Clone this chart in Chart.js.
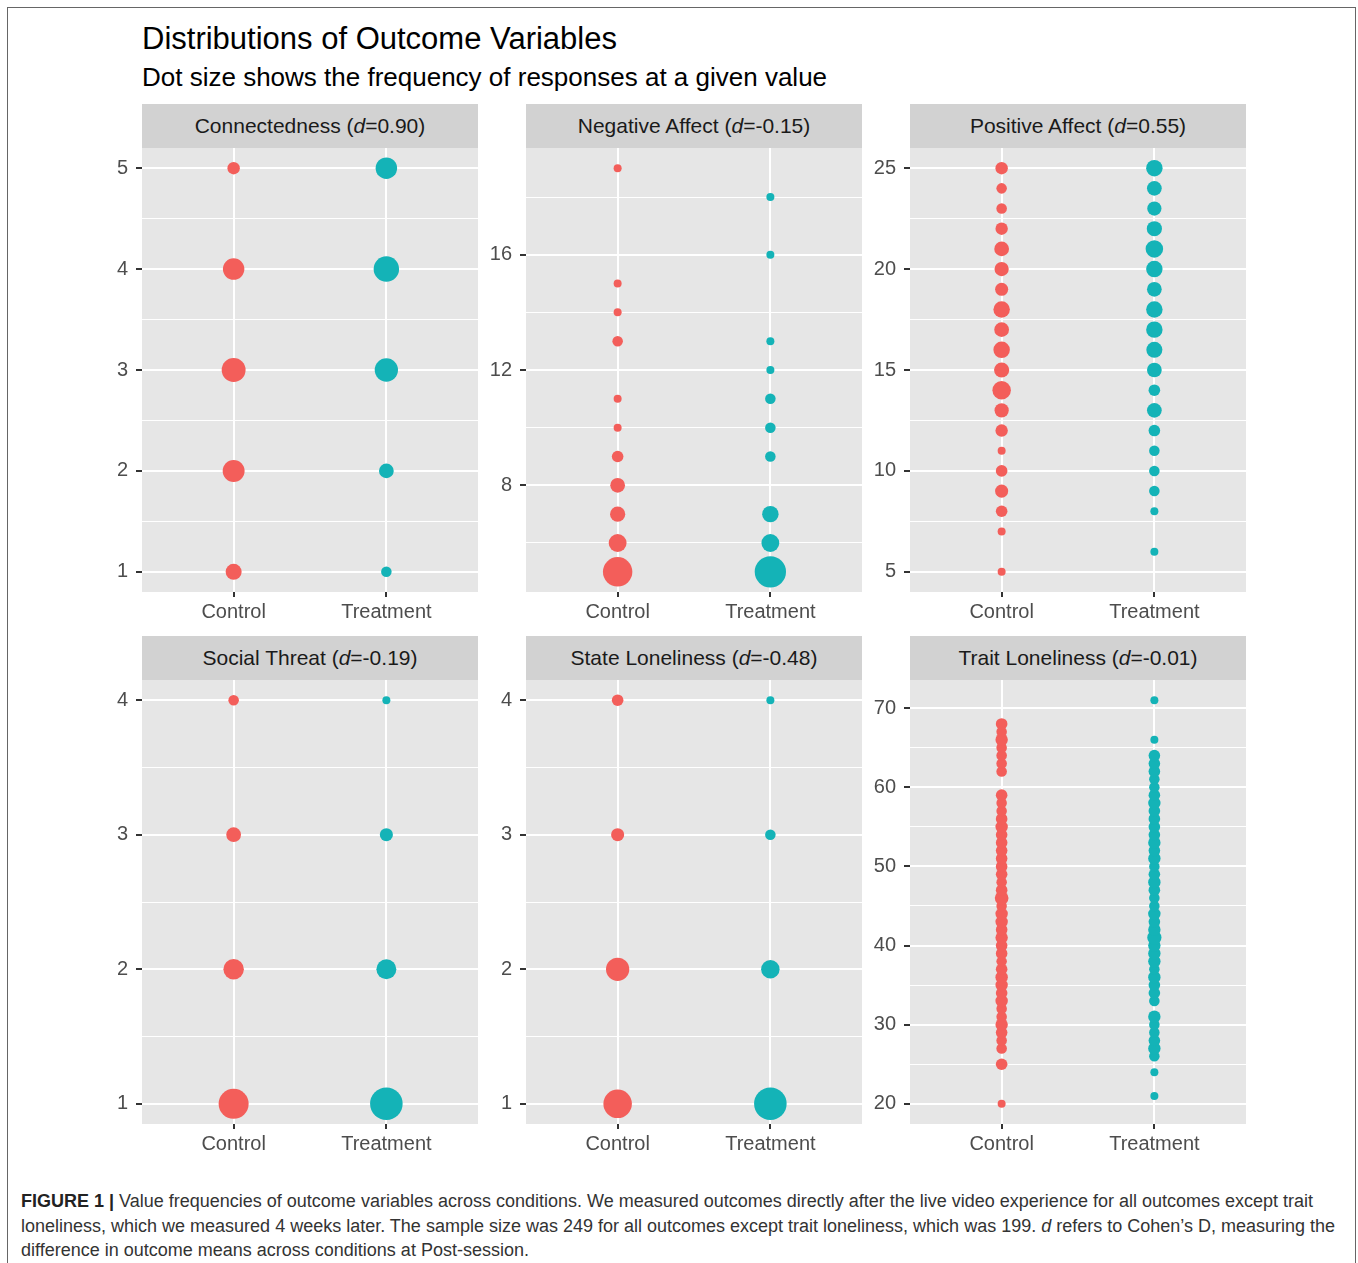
<!DOCTYPE html>
<html>
<head>
<meta charset="utf-8">
<script src="https://cdn.jsdelivr.net/npm/chart.js@4.4.1/dist/chart.umd.min.js"></script>
<style>
  html, body { margin: 0; padding: 0; background: #ffffff; }
  body { width: 1358px; height: 1263px; position: relative; overflow: hidden;
         font-family: "Liberation Sans", Arial, Helvetica, sans-serif; }
  #frame { position: absolute; left: 7px; top: 7px; width: 1347px; height: 1300px;
           border: 1px solid #666666; }
  #title { position: absolute; left: 142px; top: 23px; font-size: 31px; line-height: 31px;
           color: #000000; white-space: nowrap; }
  #subtitle { position: absolute; left: 142px; top: 64px; font-size: 26px; line-height: 26px;
              color: #000000; white-space: nowrap; }
  .strip { position: absolute; width: 336px; height: 44px; line-height: 44px; background: #D2D2D2;
           color: #1A1A1A; font-size: 21px; text-align: center; white-space: nowrap; }
  #caption { position: absolute; left: 21px; top: 1189px; font-family: "Liberation Sans Narrow", "Liberation Sans", Arial, sans-serif;
             font-size: 18px; line-height: 24.5px; color: #333333; white-space: nowrap; }
  #caption b { color: #222222; }
</style>
</head>
<body>
<div id="frame"></div>
<div id="title">Distributions of Outcome Variables</div>
<div id="subtitle">Dot size shows the frequency of responses at a given value</div>
<div id="caption"><b>FIGURE 1 |</b> Value frequencies of outcome variables across conditions. We measured outcomes directly after the live video experience for all outcomes except trait<br>loneliness, which we measured 4 weeks later. The sample size was 249 for all outcomes except trait loneliness, which was 199. <i>d</i> refers to Cohen’s D, measuring the<br>difference in outcome means across conditions at Post-session.</div>

<script>
// ---------------- DATA ----------------
const GROUPS = ['Control', 'Treatment'];

// Connectedness (d=0.90)
const connValues = [1, 2, 3, 4, 5];
const connControl = [11, 31, 40, 29, 4];
const connTreatment = [2, 8, 37, 48, 29];
const connMajor = [1, 2, 3, 4, 5];
const connMinor = [1.5, 2.5, 3.5, 4.5];

// Negative Affect (d=-0.15)
const negValuesControl = [5, 6, 7, 8, 9, 10, 11, 13, 14, 15, 19];
const negCountsControl = [72, 16, 9, 8, 3, 1, 1, 2, 1, 1, 1];
const negValuesTreatment = [5, 6, 7, 9, 10, 11, 12, 13, 16, 18];
const negCountsTreatment = [85, 16, 12, 2, 2, 2, 1, 1, 1, 1];
const negMajor = [8, 12, 16];
const negMinor = [6, 10, 14, 18];

// Positive Affect (d=0.55)
const posValuesControl = [5, 7, 8, 9, 10, 11, 12, 13, 14, 15, 16, 17, 18, 19, 20, 21, 22, 23, 24, 25];
const posCountsControl = [1, 1, 3, 5, 3, 1, 4, 7, 18, 9, 12, 8, 12, 5, 7, 8, 4, 2, 2, 4];
const posValuesTreatment = [6, 8, 9, 10, 11, 12, 13, 14, 15, 16, 17, 18, 19, 20, 21, 22, 23, 24, 25];
const posCountsTreatment = [1, 1, 2, 2, 2, 3, 8, 3, 8, 11, 12, 12, 8, 12, 15, 9, 7, 8, 12];
const posMajor = [5, 10, 15, 20, 25];
const posMinor = [7.5, 12.5, 17.5, 22.5];

// Social Threat (d=-0.19)
const threatValues = [1, 2, 3, 4];
const threatControl = [76, 25, 8, 2];
const threatTreatment = [94, 23, 5, 1];
const threatMajor = [1, 2, 3, 4];
const threatMinor = [1.5, 2.5, 3.5];

// State Loneliness (d=-0.48)
const stateValues = [1, 2, 3, 4];
const stateControl = [66, 37, 5, 3];
const stateTreatment = [94, 18, 2, 1];
const stateMajor = [1, 2, 3, 4];
const stateMinor = [1.5, 2.5, 3.5];

// Trait Loneliness (d=-0.01)
const traitValuesControl = [20, 25, 27, 28, 29, 30, 31, 32, 33, 34, 35, 36, 37, 38, 39, 40, 41, 42, 43, 44,
  45, 46, 47, 48, 49, 50, 51, 52, 53, 54, 55, 56, 57, 58, 59, 62, 63, 64, 65, 66, 67, 68];
const traitCountsControl = [1, 3, 2, 2, 3, 4, 2, 2, 4, 3, 4, 4, 3, 2, 3, 3, 4, 3, 4, 4,
  2, 6, 3, 2, 3, 3, 3, 3, 3, 3, 4, 3, 2, 2, 3, 2, 2, 2, 2, 4, 2, 3];
const traitValuesTreatment = [21, 24, 26, 27, 28, 29, 30, 31, 33, 34, 35, 36, 37, 38, 39, 40, 41, 42, 43, 44,
  45, 46, 47, 48, 49, 50, 51, 52, 53, 54, 55, 56, 57, 58, 59, 60, 61, 62, 63, 64, 66, 71];
const traitCountsTreatment = [1, 1, 2, 4, 3, 2, 2, 4, 2, 3, 3, 4, 2, 4, 4, 4, 7, 4, 3, 4,
  2, 2, 3, 4, 3, 2, 4, 3, 4, 3, 3, 3, 3, 4, 3, 2, 2, 3, 3, 3, 1, 1];
const traitMajor = [20, 30, 40, 50, 60, 70];
const traitMinor = [25, 35, 45, 55, 65];

// ---------------- STYLE / LAYOUT ----------------
const RED = '#F35E5A';
const TEAL = '#14B3B7';
const PANEL_BG = '#E6E6E6';
const FONT = '"Liberation Sans", Arial, Helvetica, sans-serif';
const PANEL_W = 336, PANEL_H = 444, STRIP_H = 44;
const Y_AXIS_W = 60, X_AXIS_H = 44, PAD_TOP = 16;
const COL_LEFT = [142, 526, 910];
const ROW_TOP = [148, 680];

// area-proportional size scale (count -> radius in px)
function sizeOf(n) { return 4 + 12 * Math.sqrt(Math.max(n - 1, 0) / 89); }

// expanded y range like ggplot (5% each side)
function expanded(lo, hi) { const e = (hi - lo) * 0.05; return [lo - e, hi + e]; }

const panels = [
  { title: 'Connectedness', d: '0.90', row: 0, col: 0, range: expanded(1, 5), major: connMajor, minor: connMinor,
    control: [connValues, connControl], treatment: [connValues, connTreatment] },
  { title: 'Negative Affect', d: '-0.15', row: 0, col: 1, range: expanded(5, 19), major: negMajor, minor: negMinor,
    control: [negValuesControl, negCountsControl], treatment: [negValuesTreatment, negCountsTreatment] },
  { title: 'Positive Affect', d: '0.55', row: 0, col: 2, range: expanded(5, 25), major: posMajor, minor: posMinor,
    control: [posValuesControl, posCountsControl], treatment: [posValuesTreatment, posCountsTreatment] },
  { title: 'Social Threat', d: '-0.19', row: 1, col: 0, range: expanded(1, 4), major: threatMajor, minor: threatMinor,
    control: [threatValues, threatControl], treatment: [threatValues, threatTreatment] },
  { title: 'State Loneliness', d: '-0.48', row: 1, col: 1, range: expanded(1, 4), major: stateMajor, minor: stateMinor,
    control: [stateValues, stateControl], treatment: [stateValues, stateTreatment] },
  { title: 'Trait Loneliness', d: '-0.01', row: 1, col: 2, range: expanded(20, 71), major: traitMajor, minor: traitMinor,
    control: [traitValuesControl, traitCountsControl], treatment: [traitValuesTreatment, traitCountsTreatment] }
];

const bgPlugin = {
  id: 'panelBg',
  beforeDraw(chart) {
    const { ctx, chartArea: a } = chart;
    ctx.save();
    ctx.fillStyle = PANEL_BG;
    ctx.fillRect(a.left, a.top, a.right - a.left, a.bottom - a.top);
    ctx.restore();
  }
};

function zeroPadding(s) { s.paddingLeft = 0; s.paddingRight = 0; s.paddingTop = 0; s.paddingBottom = 0; }

panels.forEach(p => {
  const left = COL_LEFT[p.col], top = ROW_TOP[p.row];
  const canvas = document.createElement('canvas');
  const cw = Y_AXIS_W + PANEL_W, ch = PAD_TOP + PANEL_H + X_AXIS_H;
  canvas.width = cw; canvas.height = ch;
  Object.assign(canvas.style, { position: 'absolute', left: (left - Y_AXIS_W) + 'px', top: (top - PAD_TOP) + 'px',
    width: cw + 'px', height: ch + 'px' });
  document.body.appendChild(canvas);

  const strip = document.createElement('div');
  strip.className = 'strip';
  strip.style.left = left + 'px';
  strip.style.top = (top - STRIP_H) + 'px';
  strip.innerHTML = p.title + ' (<i>d</i>=' + p.d + ')';
  document.body.appendChild(strip);

  const majorSet = new Set(p.major);
  const isMajor = c => !!(c && c.tick && majorSet.has(c.tick.value));
  const yTicks = p.major.concat(p.minor).sort((a, b) => a - b);

  const mk = (pair, xPos, color) => ({
    data: pair[0].map((v, i) => ({ x: xPos, y: v, n: pair[1][i] })),
    backgroundColor: color,
    borderWidth: 0,
    pointRadius: c => sizeOf(c.raw.n),
    pointHoverRadius: c => sizeOf(c.raw.n),
    clip: false
  });

  new Chart(canvas, {
    type: 'scatter',
    data: { datasets: [mk(p.control, 1, RED), mk(p.treatment, 2, TEAL)] },
    options: {
      responsive: false,
      animation: false,
      events: [],
      layout: { autoPadding: false, padding: { top: PAD_TOP, left: 0, right: 0, bottom: 0 } },
      plugins: { legend: { display: false }, tooltip: { enabled: false } },
      scales: {
        x: {
          type: 'linear', min: 0.4, max: 2.6,
          afterBuildTicks: s => { s.ticks = [{ value: 1 }, { value: 2 }]; },
          afterFit: s => { s.height = X_AXIS_H; zeroPadding(s); },
          ticks: { callback: v => GROUPS[v - 1], color: '#4D4D4D', font: { family: FONT, size: 20 },
                   padding: 3, maxRotation: 0, autoSkip: false },
          grid: { color: '#FFFFFF', lineWidth: 2, tickColor: '#333333', tickLength: 5, tickWidth: 2 },
          border: { display: false }
        },
        y: {
          type: 'linear', min: p.range[0], max: p.range[1],
          afterBuildTicks: s => { s.ticks = yTicks.map(v => ({ value: v })); },
          afterFit: s => { s.width = Y_AXIS_W; zeroPadding(s); },
          ticks: { callback: v => (majorSet.has(v) ? String(v) : ''), color: '#4D4D4D',
                   font: { family: FONT, size: 20 }, padding: 8, autoSkip: false },
          grid: { color: '#FFFFFF', lineWidth: c => (isMajor(c) ? 2 : 1),
                  tickColor: c => (isMajor(c) ? '#333333' : 'rgba(0,0,0,0)'), tickLength: 6, tickWidth: 2 },
          border: { display: false }
        }
      }
    },
    plugins: [bgPlugin]
  });
});
</script>
</body>
</html>
